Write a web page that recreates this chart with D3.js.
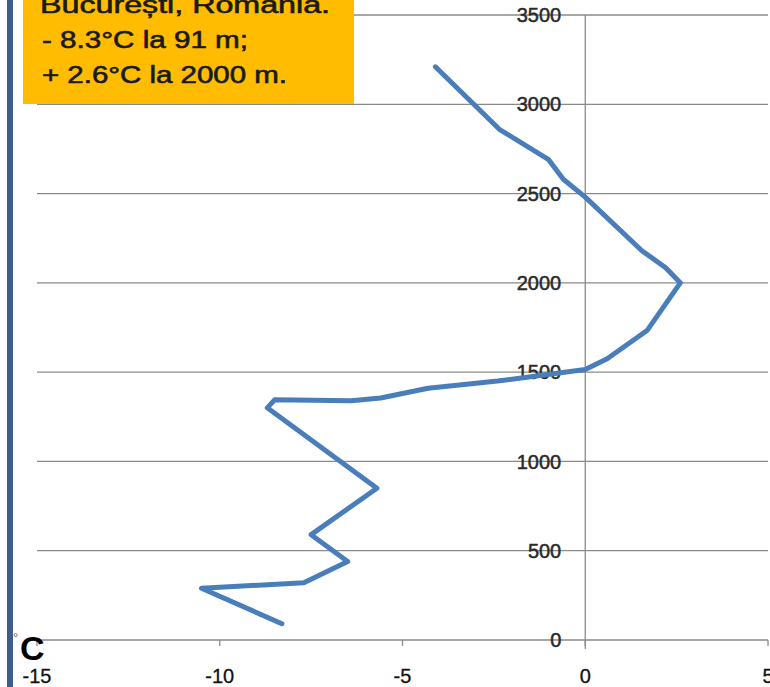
<!DOCTYPE html>
<html>
<head>
<meta charset="utf-8">
<script src="https://cdn.jsdelivr.net/npm/d3@7"></script>
<style>
  html, body { margin: 0; padding: 0; background: #fff; }
  svg { display: block; }
</style>
</head>
<body>
<svg id="chart" width="770" height="687"></svg>
<script>
// Temperature profile (°C) against altitude (m), from the ground upward
const temperature = [-8.3, -10.5, -7.7, -6.5, -7.5, -5.7, -8.7, -8.5, -6.4, -5.6, -4.3, -2.4, 0, 0.6, 1.7, 2.6, 2.2, 1.55, 0, -0.6, -1.0, -2.35, -4.1];
const altitude    = [91, 290, 320, 440, 590, 850, 1300, 1345, 1340, 1355, 1410, 1450, 1515, 1575, 1735, 2000, 2085, 2180, 2480, 2580, 2690, 2860, 3210];

const xTicks = [-15, -10, -5, 0, 5];
const yTicks = [0, 500, 1000, 1500, 2000, 2500, 3000, 3500];

const noteLines = ["București, România.", "- 8.3°C la 91 m;", "+ 2.6°C la 2000 m."];
const unitLabel = "C";

const svg = d3.select("#chart");

const x = d3.scaleLinear().domain([-15, 5]).range([37, 768]);
const y = d3.scaleLinear().domain([0, 3500]).range([640, 15]);

const gridColor = "#8a8a8a";

// horizontal gridlines
svg.append("g").selectAll("line").data(yTicks.filter(d => d > 0)).join("line")
  .attr("x1", x(-15)).attr("x2", x(5))
  .attr("y1", d => y(d)).attr("y2", d => y(d))
  .attr("stroke", gridColor).attr("stroke-width", 1.3);

// vertical axis at 0 °C
svg.append("line")
  .attr("x1", x(0)).attr("x2", x(0))
  .attr("y1", y(3500)).attr("y2", y(0) + 9)
  .attr("stroke", gridColor).attr("stroke-width", 1.3);

// horizontal axis with ticks
svg.append("line")
  .attr("x1", x(-15)).attr("x2", x(5))
  .attr("y1", y(0)).attr("y2", y(0))
  .attr("stroke", gridColor).attr("stroke-width", 1.3);
svg.append("g").selectAll("line").data(xTicks).join("line")
  .attr("x1", d => x(d)).attr("x2", d => x(d))
  .attr("y1", y(0)).attr("y2", y(0) + 6)
  .attr("stroke", gridColor).attr("stroke-width", 1.3);

// altitude labels, sitting on the gridlines left of the 0 °C axis
svg.append("g").selectAll("text").data(yTicks).join("text")
  .attr("x", x(0) - 24).attr("y", d => y(d))
  .attr("dy", "0.36em")
  .attr("text-anchor", "end")
  .attr("font-family", "Liberation Sans, Arial, sans-serif")
  .attr("font-size", 20)
  .attr("fill", "#2a2a2a")
  .attr("stroke", "#2a2a2a").attr("stroke-width", 0.5)
  .text(d => d);

// temperature labels
svg.append("g").selectAll("text").data(xTicks).join("text")
  .attr("x", d => x(d)).attr("y", 683)
  .attr("text-anchor", "middle")
  .attr("font-family", "Liberation Sans, Arial, sans-serif")
  .attr("font-size", 20)
  .attr("fill", "#111")
  .attr("stroke", "#111").attr("stroke-width", 0.3)
  .text(d => d);

// profile line
const pts = temperature.map((t, i) => [t, altitude[i]]);
svg.append("path")
  .datum(pts)
  .attr("d", d3.line().x(d => x(d[0])).y(d => y(d[1])).curve(d3.curveLinear))
  .attr("fill", "none")
  .attr("stroke", "#4a7ebb")
  .attr("stroke-width", 5)
  .attr("stroke-linejoin", "round")
  .attr("stroke-linecap", "round");

// note box
svg.append("rect")
  .attr("x", 23).attr("y", 0)
  .attr("width", 331).attr("height", 104)
  .attr("fill", "#ffbc00");

const noteX = [40, 42, 42];
const noteY = [13, 48, 83];
const noteW = [290, 206, 245];
svg.append("g").selectAll("text").data(noteLines).join("text")
  .attr("x", (d, i) => noteX[i]).attr("y", (d, i) => noteY[i])
  .attr("font-family", "Liberation Sans, Arial, sans-serif")
  .attr("font-size", 23)
  .attr("fill", "#1a1a1a")
  .attr("stroke", "#1a1a1a").attr("stroke-width", 0.6)
  .attr("textLength", (d, i) => noteW[i])
  .attr("lengthAdjust", "spacingAndGlyphs")
  .text(d => d);

// slide edge bar on the left
svg.append("rect")
  .attr("x", 7).attr("y", 0)
  .attr("width", 6).attr("height", 687)
  .attr("fill", "#3e5d8c");

// unit mark at the lower left
svg.append("text")
  .attr("x", 13).attr("y", 642)
  .attr("font-family", "Liberation Sans, Arial, sans-serif")
  .attr("font-size", 13)
  .attr("fill", "#555")
  .text("°");
svg.append("text")
  .attr("x", 20).attr("y", 660)
  .attr("font-family", "Liberation Sans, Arial, sans-serif")
  .attr("font-size", 34)
  .attr("font-weight", "bold")
  .attr("fill", "#000")
  .text(unitLabel);
</script>
</body>
</html>
